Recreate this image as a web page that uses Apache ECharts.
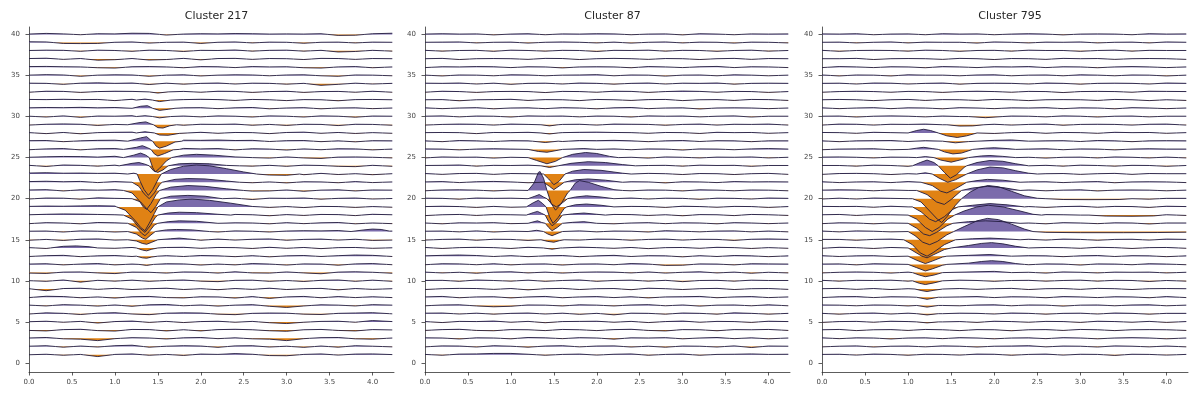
<!DOCTYPE html>
<html><head><meta charset="utf-8">
<script src="https://cdn.jsdelivr.net/npm/echarts@6/dist/echarts.min.js"></script>
<style>html,body{margin:0;padding:0;background:#fff}#c{width:1198px;height:399px}</style>
</head><body><div id="c"></div>
<script>
// ---------- data ----------
const titles = ['Cluster 217', 'Cluster 87', 'Cluster 795'];
const channels = [1,2,3,4,5,6,7,8,9,10,11,12,13,14,15,16,17,18,19,20,21,22,23,24,25,26,27,28,29,30,31,32,33,34,35,36,37,38,39,40];
const sampleTimes = [0,0.2,0.4,0.6,0.8,1.0,1.2,1.4,1.6,1.8,2.0,2.2,2.4,2.6,2.8,3.0,3.2,3.4,3.6,3.8,4.0,4.23];
const xTicks = [0,0.5,1.0,1.5,2.0,2.5,3.0,3.5,4.0];
const yTicks = [0,5,10,15,20,25,30,35,40];

// background wiggle of each channel (channel 1 first), values at sampleTimes
const noise217 = [
[0,.06,-.06,.04,-.22,.04,.1,-.06,.04,-.08,.08,.04,.14,.06,-.1,-.12,.04,.1,-.04,.08,.1,.02],
[.04,.1,-.08,.06,-.06,.1,.16,-.08,.04,.1,.06,-.1,.08,.1,-.06,.04,-.1,.06,-.08,.1,.04,-.04],
[.04,.1,-.06,-.1,-.28,-.04,.08,.04,-.08,.06,.1,-.04,.06,-.06,-.1,-.28,-.04,.08,.1,-.06,-.1,.04],
[-.04,-.1,.06,.1,-.06,-.12,.08,.06,-.1,.04,-.1,.06,.1,.04,-.08,-.14,.04,.08,-.04,-.1,.06,.02],
[.02,.08,-.04,.06,-.14,.04,.1,-.06,.06,-.08,.04,.08,-.04,.06,-.1,-.2,-.04,.06,.08,-.04,.16,.04],
[-.04,.1,.04,-.1,.06,.12,-.04,-.12,.06,.1,.08,-.06,-.12,.04,.08,.06,-.06,-.1,.04,.08,.12,-.02],
[.04,-.06,.1,.04,-.08,.06,-.1,.08,.12,-.04,.06,-.08,.04,.1,-.1,-.24,-.06,.08,.04,-.06,.1,.04],
[-.04,.12,.08,-.06,.04,-.1,.06,.1,-.04,-.08,.06,.04,-.1,.08,-.14,.04,.1,-.06,.08,-.04,.06,-.04],
[.04,-.2,.06,.1,-.04,.08,-.06,.04,.1,-.06,.04,-.08,.06,-.04,.1,-.06,.04,.08,-.1,.06,-.04,.04],
[.02,-.06,.1,-.16,.06,-.04,.08,-.06,.04,.1,-.04,-.1,.06,.08,-.06,.04,-.08,.06,.1,-.06,.08,-.06],
[-.06,-.1,.06,.08,-.04,-.12,.06,.04,-.06,.08,.06,-.06,.1,-.04,-.06,.08,-.04,-.14,.06,.1,.04,-.08],
[.04,.08,-.06,.04,.1,-.06,.04,-.04,.08,.06,-.08,.04,-.06,.1,.04,-.08,.06,.04,-.1,.06,.1,-.04],
[-.04,.06,.1,-.06,.04,.08,-.04,-.06,.06,-.04,.08,.04,-.06,.06,-.08,.04,.08,-.04,.06,.14,.1,-.04],
[.04,-.06,.12,.22,.12,-.04,.06,-.1,.06,.08,-.04,.06,.04,-.06,.08,-.04,.06,-.08,.04,.06,-.04,.02],
[-.06,.04,-.08,.06,.1,-.04,.06,-.1,.04,.06,-.06,.08,-.04,.06,.1,-.06,.04,.08,-.04,.06,-.08,-.04],
[.04,.06,-.06,.08,.04,-.06,.04,-.08,.06,.1,.04,-.06,.08,.04,-.06,.06,.1,.08,.12,.18,.3,.06],
[-.04,.08,.04,-.06,.1,.06,-.04,-.1,.06,.1,.04,-.08,.06,.04,-.06,.08,-.04,.06,.1,-.06,.04,-.04],
[.04,.1,.14,.12,.08,.04,-.06,-.1,.08,.1,.06,-.06,.08,.04,-.08,.06,-.04,.08,.06,-.06,.1,.04],
[.06,.1,.08,.12,.14,.1,-.08,0,0,0,0,0,0,.04,-.06,.04,-.08,.06,.04,-.06,.04,-.04],
[-.04,.08,.06,-.06,.1,.04,-.08,0,0,0,0,0,.06,-.1,.06,.04,.08,-.06,.04,.08,-.04,.02],
[.06,.1,-.06,.08,.04,.1,-.1,0,0,0,0,0,.06,-.08,-.06,.06,-.1,.04,.08,-.06,.06,.04],
[.08,.12,.06,.1,-.04,.08,-.1,0,0,0,0,0,.08,-.06,.04,-.08,.06,.04,-.06,.08,-.04,.04],
[.12,.16,.1,.12,.08,.1,.08,0,0,0,0,0,0,0,0,0,-.08,.08,-.06,.04,-.08,.04],
[.06,-.08,.1,.06,-.04,.08,.1,0,0,0,0,0,.08,-.04,.06,-.06,.08,.04,-.06,-.1,.06,-.06],
[.04,.1,.14,.12,.06,.16,0,0,0,0,0,0,0,.06,-.06,.08,-.04,-.1,.06,.08,.04,-.04],
[-.04,.06,.1,-.06,.08,.1,0,0,.08,.12,.06,.1,-.06,.08,.04,-.08,.06,-.04,.08,.06,-.06,.04],
[.06,.08,-.06,.04,.1,.12,0,0,.06,.12,.1,.14,.08,.1,-.04,.06,.08,-.06,.04,-.08,.06,.04],
[.04,-.08,.06,-.1,.04,.08,.1,0,0,.06,.08,-.04,.06,.04,-.08,.06,.1,-.04,.06,-.06,.04,-.04],
[-.04,.06,.1,.06,-.08,.04,0,0,0,-.06,.06,.04,.08,-.06,.04,-.08,.06,.04,-.1,.06,.04,-.06],
[.04,-.06,.08,-.1,.06,.04,.1,0,0,.06,-.04,.08,.04,-.06,.08,.04,-.06,.08,.04,-.08,.06,.04],
[.06,.1,.08,.12,.06,.1,.14,0,0,.06,.08,-.04,.06,.1,-.06,.04,.08,-.06,.04,.06,-.04,.04],
[.08,.06,.1,.06,.08,-.06,.1,0,0,.06,.1,.06,-.04,.08,.04,-.06,.06,.04,-.08,.06,.08,.04],
[-.04,.08,.06,-.06,.04,.08,.06,0,0,.06,-.04,.08,.06,-.06,.04,.08,-.06,.04,.06,-.04,.08,-.04],
[.06,.04,-.08,.06,.1,.04,.08,-.1,.06,-.06,.04,.08,-.04,.06,.04,-.06,.04,-.2,-.08,.06,-.04,.04],
[.04,.1,.06,-.1,.04,.08,.06,-.1,.04,.08,-.06,.04,.08,.06,-.04,.06,.08,-.04,-.1,.06,.04,-.04],
[.08,.1,.06,.04,-.06,-.1,.06,.08,.04,-.06,.08,.06,-.04,.08,.04,.06,-.06,-.1,.04,.08,-.06,.04],
[.06,.1,-.04,.06,-.14,-.08,.06,-.12,-.06,.08,-.1,.06,.08,-.04,.06,.04,-.06,.08,.06,-.04,.06,.04],
[.04,.08,.06,-.06,.08,.04,-.06,.08,.04,-.08,.06,.04,.1,-.04,.06,.08,-.04,.06,-.14,-.08,.06,-.04],
[.1,.08,-.1,-.12,-.1,.04,.08,-.06,.04,.06,-.1,.04,.08,-.04,.06,.04,-.08,.04,.06,-.04,.06,.04],
[.04,.12,.06,-.04,.08,.06,.14,.12,-.08,.04,.08,.06,.1,.08,.04,.06,.04,.08,-.12,-.1,.08,.14]
];
const noise87 = [
[.04,-.06,.08,.1,.16,.16,.06,-.06,.04,.08,-.04,.06,.1,-.06,.04,.08,-.06,.04,.06,.1,.04,.06],
[-.04,.08,.06,-.06,.1,.04,-.08,.06,.1,-.04,.06,.08,-.06,.04,-.08,.06,.04,-.06,.08,-.12,.06,.04],
[.06,.04,-.08,.06,.04,-.06,.1,.06,-.04,.08,.04,-.1,.06,.04,.08,-.06,.04,.1,-.04,.06,-.06,.04],
[-.04,.06,.1,-.04,-.08,.06,.04,-.06,.08,.04,-.06,.06,.1,-.04,-.1,.06,.04,-.08,.06,.04,.08,-.04],
[.04,-.08,.06,.04,.1,-.04,.06,-.1,.04,.06,.08,-.04,.06,-.08,.04,.1,-.04,.06,.04,-.06,.08,.04],
[.06,.08,-.04,.06,-.06,.04,.08,-.04,.06,-.08,.04,-.14,.06,.04,-.06,.08,.04,-.06,.1,.04,-.06,.04],
[-.04,.06,.08,-.06,-.16,-.1,.06,.04,-.06,.08,.04,-.06,.06,.1,-.04,.06,-.08,.04,.06,-.04,.08,-.04],
[.04,.1,-.06,.04,.06,-.08,.04,.1,-.06,.04,.08,-.04,.06,-.08,.04,.06,.1,-.06,.04,.08,-.04,.04],
[-.06,.04,.08,.06,-.04,.06,-.1,.04,.08,-.06,.04,.06,-.08,.1,.04,-.06,.04,.08,-.06,.04,.06,-.04],
[.04,.06,-.06,.1,.04,-.04,.08,-.06,.04,.1,-.06,.04,.08,-.04,.06,-.1,.04,.06,-.04,.08,.04,.04],
[.06,-.04,.04,-.08,.06,.1,-.04,.06,-.06,.04,.08,.06,-.04,.08,-.06,.04,.1,-.04,.06,-.08,.04,-.04],
[-.04,.08,.06,-.04,.08,-.06,.04,.06,-.08,.04,.06,-.04,.1,.04,-.12,-.1,.06,.04,-.06,.08,.06,.04],
[.04,.1,.14,.08,-.04,.06,-.06,.04,.08,-.06,.04,.1,-.04,.06,.04,-.08,.06,-.04,.08,.04,-.06,.04],
[.06,-.06,.04,.08,.04,-.06,.08,0,0,.1,.04,-.04,.06,-.08,.04,.06,-.04,.08,.04,-.06,.04,-.04],
[-.04,.04,.08,-.06,.06,.04,-.08,0,0,-.04,.08,.06,-.06,.04,.08,-.04,.06,.04,-.08,.06,.1,.04],
[.04,.06,-.04,.08,-.06,.04,0,0,.04,.08,-.04,.06,.04,-.06,.1,.04,-.04,.06,.08,-.04,.06,-.04],
[.04,-.06,.06,.04,.08,-.04,0,0,0,0,.1,-.06,.04,.08,-.04,.06,.04,-.06,.08,.04,-.04,.04],
[-.06,.04,.08,-.04,.06,.04,0,0,0,0,-.04,.08,.06,-.04,.04,-.08,.06,.04,-.06,.08,.04,-.04],
[.04,.08,.04,-.06,.06,-.04,0,0,0,0,0,-.04,.06,.04,-.06,.08,.04,-.04,.06,.04,-.06,.04],
[.06,.04,-.06,.08,.04,.06,0,0,0,0,0,.04,.08,-.04,.06,.04,-.08,.06,.04,-.04,.08,.04],
[-.04,.06,.08,.04,-.06,.04,0,0,0,0,0,.08,-.04,.06,.04,-.06,.08,.04,-.04,.06,.04,-.04],
[.04,.08,-.04,.06,.1,.04,-.06,0,0,0,0,0,.06,.04,-.08,.06,.04,-.04,.08,.04,.06,.04],
[.06,-.04,.06,.08,-.04,.06,.04,0,0,0,0,0,-.04,.08,.04,-.06,.06,.04,-.06,.04,.08,-.04],
[.04,.06,.1,-.04,.06,.04,.08,0,0,0,0,0,0,.04,.06,-.04,.08,.04,.06,-.06,.04,.04],
[-.04,.08,.04,.06,-.06,.04,0,0,0,0,0,0,.04,-.06,.08,.04,-.04,.06,.04,.08,-.04,.04],
[.06,.04,-.06,.04,.08,.04,0,0,0,0,0,.06,-.04,.06,.04,-.08,.06,.04,-.04,.06,.1,.04],
[.04,-.06,.08,.04,-.04,.06,.04,0,-.04,.08,.06,.1,.04,-.06,.04,.08,-.04,.06,.04,-.06,.04,.04],
[.04,.06,.04,-.08,.06,.04,.08,0,.04,.08,.1,.06,.04,-.04,.06,.04,-.06,.08,.04,.06,-.04,.04],
[-.04,.04,.08,.06,-.04,.08,.04,0,.04,.06,-.04,.08,.06,.04,-.06,.04,.08,-.04,.06,.04,.08,-.04],
[.04,.08,-.04,.06,.04,-.06,.08,.04,.06,-.04,.06,.04,-.06,.08,.04,.06,-.04,.04,.08,-.06,.04,.04],
[.06,-.04,.04,.08,-.06,.04,.06,-.04,.08,.04,-.06,.06,.1,-.04,.04,.06,-.08,.04,.06,.04,-.04,.04],
[.04,.06,-.08,.04,.06,.1,-.04,.06,.04,-.06,.08,.04,-.04,.06,.08,-.06,.04,.06,-.04,.08,.06,-.04],
[-.04,.08,.04,-.06,.04,.06,.04,-.08,.06,.04,-.04,.08,.06,-.06,.04,.1,.06,-.04,.06,.04,-.06,.04],
[.06,.04,.08,-.04,.06,-.08,.04,.06,-.04,.08,.04,-.06,.04,.08,-.04,.06,.04,.08,-.06,.04,.06,.04],
[.04,-.06,.06,.04,-.04,.08,.06,-.04,.04,.06,.1,-.04,.06,.04,-.08,.04,.06,-.04,.08,.04,-.04,.04],
[-.04,.06,.04,.08,.06,-.04,.06,.04,-.08,.04,.06,.04,-.06,.08,.04,-.04,.06,.1,-.04,.06,.04,-.04],
[.04,.08,-.06,.04,.06,.04,-.04,.08,.06,-.06,.04,.08,.04,-.04,.06,.04,-.06,.04,.08,-.04,.06,.04],
[.06,-.04,.04,.06,-.06,.08,.04,-.04,.06,.04,-.08,.06,.04,.08,-.04,.06,.04,-.06,.04,.08,-.04,.04],
[.04,.06,.08,-.04,.04,.06,-.06,.04,.08,.04,-.04,.06,-.06,.04,.08,-.04,.06,.04,-.06,.06,.04,-.04],
[.04,.08,.04,.06,-.06,.04,.08,-.04,.06,.04,.08,.06,-.04,.04,.06,-.06,.08,.04,-.04,.06,.04,.06]
];
const noise795 = [
[.04,.06,-.04,.08,.04,-.06,.06,.04,-.04,.08,.06,-.06,.04,.08,-.04,.06,.04,-.08,.06,.04,-.04,.04],
[-.04,.04,.08,-.06,.04,.06,-.04,.08,.04,-.06,.04,.06,.1,-.04,.06,.04,-.06,.08,.04,-.04,.06,-.04],
[.06,-.04,.06,.04,-.08,.04,.06,-.04,.08,.04,-.06,.04,.06,-.04,.08,.04,-.06,.04,.08,.04,-.06,.04],
[.04,.08,-.06,.04,.06,-.04,.08,.04,-.06,.06,.04,-.08,.04,.06,-.04,.08,.04,-.06,.04,.06,.04,-.04],
[-.06,.04,.06,-.04,.08,.04,0,0,.04,-.06,.08,.04,-.04,.06,.04,-.06,.08,.04,-.04,.06,-.06,.04],
[.04,-.06,.04,.08,-.04,.06,0,0,.06,.04,-.04,.08,.04,-.06,.04,.06,-.04,.08,.04,-.06,.04,.04],
[.06,.04,-.04,.06,.04,-.06,0,0,-.04,.06,.08,-.04,.06,.04,-.08,.04,.06,-.04,.06,.08,-.04,.04],
[-.04,.06,.08,-.04,.06,.04,0,0,.04,.08,-.04,.06,.04,-.06,.08,.04,-.04,.06,.04,-.06,.08,-.04],
[.04,.08,-.04,.06,-.06,.04,0,0,.06,-.04,.04,.08,-.06,.04,.06,-.04,.08,.04,-.06,.04,.06,.04],
[.06,-.04,.06,.04,.08,-.04,0,0,.08,.04,-.06,.04,.06,-.04,.04,.08,-.04,.06,.04,-.08,.04,-.04],
[-.04,.04,.08,.04,-.06,.06,0,0,0,0,0,0,.04,-.06,.08,.04,-.04,.06,.04,.06,-.04,.04],
[.04,.06,-.06,.08,.04,.04,0,0,0,0,0,0,-.04,.06,.04,-.08,.06,.04,-.04,.08,.04,-.04],
[.06,-.04,.04,.06,-.04,.08,0,0,0,0,0,0,.06,.04,-.06,.04,.08,-.04,.06,.04,-.06,.04],
[-.04,.08,.04,-.06,.06,.04,0,0,0,0,0,0,0,.06,.04,-.04,.08,.04,-.06,.04,.06,-.04],
[.04,.04,-.06,.04,.08,0,0,0,0,0,0,0,.06,-.04,.08,.04,-.06,.04,.06,-.04,.08,.04],
[.06,-.04,.08,.04,-.04,0,0,0,0,0,0,0,0,0,0,0,0,0,0,0,0,0],
[-.04,.06,.04,-.06,.04,0,0,0,0,0,0,0,.04,-.06,.08,.04,-.04,.06,.04,-.08,.04,.04],
[.04,.08,-.04,.06,.04,0,0,0,0,0,0,0,0,.06,.04,0,0,0,0,0,.04,-.04],
[.06,.04,.06,-.04,.08,0,0,0,0,0,0,0,.04,-.06,.04,.08,-.04,.06,.04,-.06,.08,.04],
[-.04,.06,-.04,.08,.04,0,0,0,0,0,0,0,0,0,0,0,0,0,.04,-.06,.04,.04],
[.04,.08,.06,-.04,.06,0,0,0,0,0,0,0,.06,-.04,.04,.08,-.06,.04,.06,.04,-.04,.04],
[.06,-.04,.04,.06,-.04,.08,0,0,0,0,0,0,.04,.06,-.04,.04,.08,-.06,.04,.06,.04,-.04],
[-.04,.06,.08,.04,-.06,.04,0,0,0,0,0,0,0,.04,.06,-.04,.04,.08,-.04,.06,.04,.04],
[.04,.04,-.04,.08,.04,-.06,0,0,0,0,0,0,0,.06,-.04,.08,.04,-.04,.06,.04,-.06,.04],
[.06,.08,.04,-.04,.06,.04,0,0,0,0,0,0,.04,-.06,.04,.06,-.04,.08,.04,-.04,.06,-.04],
[-.04,.04,.06,.08,-.04,.06,0,0,0,0,0,0,.04,.08,-.04,.06,.04,-.06,.04,.08,.04,.04],
[.04,-.06,.04,.06,.08,-.04,.06,0,0,0,0,0,0,.04,.06,-.04,.08,.04,-.06,.04,.06,.04],
[.06,.04,-.04,.08,.04,0,0,0,0,.04,-.06,.04,.08,-.04,.06,.04,-.04,.08,.04,.06,-.04,.04],
[-.04,.08,.06,-.04,.06,.04,.08,0,0,.04,.06,-.04,.04,.08,-.06,.04,.06,.04,-.04,.06,.08,-.04],
[.04,.06,-.06,.04,.08,.04,-.04,.06,0,0,0,.06,.04,-.04,.08,.04,-.06,.04,.06,-.04,.04,.04],
[.06,-.04,.04,.08,-.04,.06,.04,-.06,.08,.04,-.04,.06,.04,.08,-.04,.06,.04,-.06,.08,.04,-.04,.04],
[.04,.08,.04,-.06,.04,.08,-.04,.06,.04,-.04,.08,.04,-.06,.04,.06,.04,-.04,.08,.04,-.06,.04,-.04],
[-.04,.04,.08,.04,-.04,.06,.04,-.06,.04,.08,.04,-.04,.06,.04,-.08,.04,.06,.04,-.04,.08,.06,.04],
[.04,.06,-.04,.08,.06,-.04,.04,.08,-.06,.04,.06,.04,-.04,.08,.04,-.06,.04,.06,.04,-.04,.08,.04],
[.06,-.06,.06,.04,-.06,.08,.04,.04,-.04,.06,.08,-.04,.04,.06,-.04,.08,.04,-.04,.06,.04,-.06,.04],
[-.04,.08,.04,-.04,.06,.04,-.06,.08,.04,-.04,.06,.04,.08,-.04,.06,.04,-.06,.04,.08,.04,-.04,.04],
[.04,.04,.08,-.06,.04,.06,.04,-.04,.08,.04,-.06,.06,.04,-.04,.08,.04,.06,-.04,.04,.06,.04,-.04],
[.06,-.06,.04,.06,.04,-.04,.08,.04,-.06,.04,.06,-.04,.08,.04,.04,-.06,.04,.08,-.04,.06,.04,.04],
[.04,.06,-.04,.04,.08,-.04,.06,.04,.04,-.06,.08,.04,-.04,.06,.04,.08,-.04,.04,.06,-.04,.08,.04],
[.06,.04,.08,-.04,.04,.06,-.04,.08,.04,.06,-.04,.04,.08,.04,-.06,.04,.06,.04,-.04,.08,.04,.06]
];

// spike-shaped features, keyed by channel: list of segments of [time, value]
const events217 = {
  33: [[[1.4,0],[1.5,-.14],[1.62,0]]],
  32: [[[1.25,0],[1.35,.12],[1.44,0],[1.52,-.18],[1.65,0]]],
  31: [[[1.2,0],[1.3,.25],[1.38,.32],[1.44,0],[1.52,-.25],[1.62,-.12],[1.7,0]]],
  30: [[[1.25,0],[1.35,.1],[1.44,0],[1.52,-.16],[1.65,0]]],
  29: [[[1.15,0],[1.28,.25],[1.36,.35],[1.42,.1],[1.45,0],[1.5,-.35],[1.56,-.4],[1.64,-.12],[1.72,0]]],
  28: [[[1.25,0],[1.35,.15],[1.42,.05],[1.46,0],[1.52,-.25],[1.62,-.28],[1.75,-.05],[1.85,0]]],
  27: [[[1.15,0],[1.3,.4],[1.37,.55],[1.42,.1],[1.44,0],[1.48,-.6],[1.52,-.85],[1.6,-.6],[1.7,-.1],[1.78,0]]],
  26: [[[1.1,0],[1.25,.25],[1.32,.45],[1.38,.2],[1.42,0],[1.46,-.55],[1.5,-.8],[1.58,-.5],[1.68,-.05],[1.75,0]]],
  25: [[[1.1,0],[1.22,.3],[1.3,.55],[1.36,.3],[1.4,0],[1.44,-1.2],[1.47,-1.75],[1.52,-1.3],[1.6,-.4],[1.66,0],[1.8,.3],[1.95,.4],[2.15,.3],[2.4,.08],[2.6,0]]],
  24: [[[1.05,0],[1.2,.3],[1.28,.4],[1.35,.2],[1.4,0],[1.45,-.6],[1.5,-.8],[1.56,-.5],[1.62,0],[1.75,.25],[1.9,.3],[2.1,.25],[2.3,.05],[2.45,0]]],
  23: [[[1.15,0],[1.22,.1],[1.26,0],[1.29,-.8],[1.34,-1.9],[1.39,-2.6],[1.44,-1.9],[1.5,-.7],[1.54,0],[1.65,.55],[1.8,.95],[1.95,1.1],[2.1,1.0],[2.3,.65],[2.5,.25],[2.65,0],[2.8,-.12],[3.0,-.15],[3.15,0]]],
  22: [[[1.2,0],[1.28,-.5],[1.34,-1.4],[1.4,-2.0],[1.46,-1.3],[1.52,-.3],[1.55,0],[1.7,.35],[1.85,.45],[2.05,.4],[2.3,.15],[2.45,0]]],
  21: [[[1.1,0],[1.2,-.3],[1.28,-1.2],[1.33,-2.0],[1.37,-2.3],[1.42,-1.6],[1.48,-.5],[1.52,0],[1.65,.4],[1.85,.6],[2.05,.5],[2.3,.2],[2.5,0]]],
  20: [[[1.2,0],[1.3,-.4],[1.37,-1.2],[1.42,-1.7],[1.48,-.9],[1.53,0],[1.65,.3],[1.85,.4],[2.05,.3],[2.25,0]]],
  19: [[[1.02,0],[1.12,-.4],[1.23,-1.6],[1.3,-2.5],[1.35,-2.9],[1.4,-2.0],[1.46,-.8],[1.5,0],[1.6,.6],[1.75,.85],[1.9,.95],[2.1,.8],[2.35,.45],[2.6,.05],[2.7,0]]],
  18: [[[1.1,0],[1.2,-.5],[1.28,-1.5],[1.35,-2.1],[1.41,-1.3],[1.47,-.3],[1.5,0],[1.62,.25],[1.75,.35],[1.95,.3],[2.2,.1],[2.35,0]]],
  17: [[[1.15,0],[1.25,-.5],[1.31,-1.2],[1.35,-1.5],[1.4,-1.0],[1.46,-.2],[1.5,0],[1.62,.2],[1.75,.3],[1.95,.25],[2.2,0]]],
  16: [[[1.15,0],[1.25,-.3],[1.32,-.8],[1.36,-.95],[1.41,-.5],[1.47,0],[1.6,.2],[1.72,.25],[1.9,.2],[2.1,0]],[[3.75,0],[3.9,.2],[4.0,.3],[4.1,.25],[4.2,.05]]],
  15: [[[1.15,0],[1.25,-.15],[1.32,-.45],[1.37,-.55],[1.43,-.3],[1.5,0],[1.65,.12],[1.75,.2],[1.85,.1],[1.95,0]]],
  14: [[[0.25,0],[0.4,.2],[0.55,.25],[0.7,.15],[0.8,0]],[[1.25,0],[1.32,-.25],[1.37,-.35],[1.43,-.15],[1.5,0]]],
  13: [[[1.25,0],[1.32,-.2],[1.37,-.25],[1.43,-.1],[1.5,0]]],
  12: [[[1.28,0],[1.37,-.12],[1.45,0]]]
};
const events87 = {
  29: [[[1.35,0],[1.45,-.14],[1.55,0]]],
  28: [[[1.35,0],[1.45,-.12],[1.55,0]]],
  27: [[[1.25,0],[1.4,-.16],[1.55,0]]],
  26: [[[1.2,0],[1.32,-.25],[1.42,-.35],[1.55,-.1],[1.6,0],[1.85,.1],[2.0,0]]],
  25: [[[1.2,0],[1.3,-.35],[1.42,-.75],[1.52,-.45],[1.6,0],[1.72,.4],[1.87,.62],[2.0,.5],[2.15,.15],[2.25,0]]],
  24: [[[1.35,0],[1.45,-.2],[1.55,0],[1.7,.3],[1.9,.5],[2.1,.4],[2.3,.15],[2.45,0]]],
  23: [[[1.38,0],[1.44,-.6],[1.5,-1.3],[1.56,-.9],[1.63,0],[1.72,.35],[1.85,.55],[2.05,.45],[2.3,.1],[2.4,0]]],
  22: [[[1.38,0],[1.45,-.5],[1.5,-.9],[1.57,-.4],[1.62,0],[1.75,.3],[1.9,.4],[2.1,.25],[2.3,0]]],
  21: [[[1.2,0],[1.27,.9],[1.32,2.2],[1.34,2.3],[1.38,1.5],[1.42,0],[1.47,-1.6],[1.52,-2.4],[1.58,-1.7],[1.66,-.3],[1.69,0],[1.75,.9],[1.8,1.2],[1.9,1.0],[2.05,.5],[2.2,.1],[2.3,0]]],
  20: [[[1.2,0],[1.28,.3],[1.33,.5],[1.38,.2],[1.42,0],[1.48,-.7],[1.53,-1.0],[1.6,-.5],[1.66,0],[1.75,.2],[1.88,.35],[2.05,.2],[2.2,0]]],
  19: [[[1.18,0],[1.26,.5],[1.32,.8],[1.37,.4],[1.41,0],[1.45,-1.2],[1.49,-2.0],[1.55,-1.3],[1.62,-.2],[1.65,0],[1.75,.25],[1.88,.35],[2.05,.2],[2.2,0]]],
  18: [[[1.18,0],[1.26,.3],[1.31,.45],[1.36,.2],[1.4,0],[1.44,-.8],[1.48,-1.3],[1.54,-.8],[1.6,0],[1.72,.15],[1.85,.25],[2.0,.1],[2.1,0]]],
  17: [[[1.2,0],[1.27,.2],[1.31,.3],[1.36,.1],[1.4,0],[1.44,-.5],[1.48,-.9],[1.54,-.5],[1.6,0],[1.72,.12],[1.85,.2],[2.0,0]]],
  16: [[[1.2,0],[1.3,.15],[1.38,0],[1.43,-.3],[1.48,-.5],[1.55,-.2],[1.6,0]]],
  15: [[[1.35,0],[1.43,-.2],[1.5,-.3],[1.57,-.1],[1.62,0]]],
  14: [[[1.38,0],[1.48,-.15],[1.58,0]]]
};
const events795 = {
  30: [[[1.7,0],[1.9,-.14],[2.1,0]]],
  29: [[[1.45,0],[1.6,-.16],[1.75,-.14],[1.88,0]]],
  28: [[[1.0,0],[1.1,.3],[1.18,.45],[1.26,.3],[1.35,0],[1.45,-.35],[1.57,-.55],[1.68,-.35],[1.8,0]]],
  27: [[[1.4,0],[1.55,-.2],[1.7,-.05],[1.8,0],[2.0,.1],[2.2,.15],[2.4,0]]],
  26: [[[1.0,0],[1.1,.15],[1.18,.25],[1.28,.1],[1.35,0],[1.42,-.3],[1.52,-.55],[1.62,-.45],[1.75,0],[1.9,.15],[2.0,.2],[2.15,.1],[2.25,0]]],
  25: [[[1.1,0],[1.2,.12],[1.3,0],[1.38,-.3],[1.5,-.55],[1.6,-.3],[1.7,0],[1.85,.2],[1.95,.25],[2.1,.15],[2.25,0]]],
  24: [[[1.05,0],[1.14,.4],[1.22,.7],[1.3,.4],[1.35,0],[1.42,-.8],[1.49,-1.5],[1.56,-1.1],[1.65,-.2],[1.68,0],[1.8,.4],[1.95,.65],[2.1,.55],[2.25,.25],[2.4,0]]],
  23: [[[1.1,0],[1.2,.15],[1.28,0],[1.36,-.5],[1.46,-1.0],[1.55,-.7],[1.68,0],[1.8,.5],[1.95,.85],[2.1,.75],[2.25,.4],[2.4,.1],[2.5,0]]],
  22: [[[1.15,0],[1.28,-.4],[1.38,-1.1],[1.45,-1.3],[1.55,-.8],[1.68,0],[1.8,.2],[1.92,.35],[2.1,.25],[2.3,0]]],
  21: [[[1.1,0],[1.22,-.5],[1.33,-1.4],[1.42,-1.7],[1.5,-1.1],[1.62,0],[1.75,.3],[1.92,.5],[2.1,.35],[2.3,0]]],
  20: [[[1.05,0],[1.15,-.4],[1.25,-1.5],[1.34,-2.5],[1.39,-2.9],[1.45,-2.2],[1.55,-.8],[1.62,0],[1.72,.8],[1.82,1.35],[1.93,1.6],[2.05,1.45],[2.2,.9],[2.35,.35],[2.5,.05],[2.6,0],[2.8,-.1],[3.1,-.12],[3.45,-.1],[3.6,0]]],
  19: [[[1.05,0],[1.15,-.6],[1.25,-1.5],[1.32,-1.8],[1.42,-1.2],[1.52,-.3],[1.58,0],[1.75,.2],[1.95,.4],[2.15,.25],[2.35,0]]],
  18: [[[1.0,0],[1.1,-.5],[1.2,-1.5],[1.28,-2.0],[1.36,-1.5],[1.46,-.5],[1.54,0],[1.65,.5],[1.8,1.0],[1.93,1.2],[2.1,1.0],[2.3,.5],[2.45,.1],[2.55,0]],[[3.1,0],[3.3,-.12],[3.6,-.14],[3.85,-.1],[3.95,0]]],
  17: [[[1.0,0],[1.1,-.6],[1.18,-1.3],[1.25,-1.5],[1.33,-1.1],[1.45,-.3],[1.52,0],[1.7,.2],[1.9,.3],[2.1,.2],[2.3,0]]],
  16: [[[1.0,0],[1.08,-.5],[1.17,-1.3],[1.25,-1.6],[1.34,-1.2],[1.45,-.4],[1.53,0],[1.65,.6],[1.8,1.3],[1.92,1.6],[2.05,1.45],[2.2,.9],[2.35,.3],[2.45,0],[2.6,-.1],[3.0,-.14],[3.5,-.14],[3.9,-.12],[4.23,-.08]]],
  15: [[[0.95,0],[1.05,-.6],[1.14,-1.6],[1.22,-2.0],[1.3,-1.5],[1.42,-.6],[1.55,0],[1.75,.12],[1.95,.2],[2.15,.1],[2.3,0]]],
  14: [[[1.0,0],[1.08,-.5],[1.16,-1.0],[1.22,-1.2],[1.3,-.8],[1.42,-.2],[1.5,0],[1.7,.3],[1.85,.55],[1.97,.65],[2.1,.5],[2.25,.2],[2.4,0]]],
  13: [[[1.0,0],[1.1,-.5],[1.2,-.9],[1.28,-.6],[1.4,-.1],[1.45,0],[1.7,.1],[1.95,.2],[2.2,0]]],
  12: [[[1.0,0],[1.1,-.4],[1.2,-.8],[1.28,-.55],[1.4,-.1],[1.45,0],[1.7,.15],[1.85,.35],[1.97,.45],[2.1,.35],[2.25,.1],[2.35,0]]],
  11: [[[1.05,0],[1.13,-.3],[1.2,-.5],[1.3,-.3],[1.4,0],[1.8,.1],[2.0,.15],[2.2,0]]],
  10: [[[1.05,0],[1.13,-.3],[1.2,-.45],[1.3,-.25],[1.4,0]]],
  9:  [[[1.08,0],[1.16,-.2],[1.22,-.3],[1.3,-.15],[1.4,0]]],
  8:  [[[1.1,0],[1.22,-.25],[1.35,0]]],
  7:  [[[1.1,0],[1.22,-.2],[1.35,0]]],
  6:  [[[1.1,0],[1.22,-.15],[1.35,0]]],
  5:  [[[1.1,0],[1.22,-.12],[1.35,0]]]
};

// ---------- build ----------
const PURPLE = '#7b6bab', ORANGE = '#e08214', LINE = '#221c3e';
function buildTrace(noise, segs) {
  let pts = sampleTimes.map((t, i) => [t, noise[i]]);
  (segs || []).forEach(seg => {
    const a = seg[0][0], b = seg[seg.length - 1][0];
    pts = pts.filter(p => p[0] < a || p[0] > b).concat(seg);
  });
  pts.sort((p, q) => p[0] - q[0]);
  const out = [pts[0]];
  for (let i = 1; i < pts.length; i++) {
    const [t0, v0] = pts[i - 1], [t1, v1] = pts[i];
    if (v0 * v1 < 0) out.push([t0 + (t1 - t0) * v0 / (v0 - v1), 0]);
    out.push(pts[i]);
  }
  return out;
}
const panels = [[noise217, events217], [noise87, events87], [noise795, events795]]
  .map(([nz, ev]) => channels.map((c, i) => buildTrace(nz[i], ev[c])));

const grids = [{left:29, top:27, width:365, height:345},
               {left:425, top:27, width:365, height:345},
               {left:822, top:27, width:366, height:345}];
const axisCol = '#333';
const option = {
  animation: false,
  backgroundColor: '#fff',
  textStyle: {fontFamily: 'DejaVu Sans'},
  title: grids.map((g, i) => ({text: titles[i], left: g.left + g.width / 2, top: 6, textAlign: 'center',
    textStyle: {fontSize: 11, fontWeight: 'normal', color: '#262626', fontFamily: 'DejaVu Sans'}})),
  grid: grids,
  xAxis: grids.map((g, i) => ({gridIndex: i, type: 'value', min: 0, max: 4.25,
    axisLine: {show: true, onZero: false, lineStyle: {color: axisCol, width: 0.8}},
    axisTick: {show: true, length: 3.5, customValues: xTicks, lineStyle: {color: axisCol, width: 0.8}},
    axisLabel: {customValues: xTicks, formatter: v => v.toFixed(1), fontSize: 7, color: '#444', margin: 7},
    splitLine: {show: false}})),
  yAxis: grids.map((g, i) => ({gridIndex: i, type: 'value', min: -1.1, max: 40.9,
    axisLine: {show: true, onZero: false, lineStyle: {color: axisCol, width: 0.8}},
    axisTick: {show: true, length: 3.5, customValues: yTicks, lineStyle: {color: axisCol, width: 0.8}},
    axisLabel: {customValues: yTicks, formatter: v => String(v), fontSize: 7, color: '#444', margin: 9},
    splitLine: {show: false}})),
  series: []
};
panels.forEach((traces, p) => {
  const data = channels.map(c => [0, c]);
  option.series.push({
    type: 'custom', xAxisIndex: p, yAxisIndex: p, silent: true, z: 1, data,
    encode: {x: 0, y: 1},
    renderItem: (params, api) => {
      const ch = channels[params.dataIndex];
      const pts = traces[params.dataIndex];
      const t0 = pts[0][0], t1 = pts[pts.length - 1][0];
      const pos = pts.map(q => api.coord([q[0], ch + Math.max(q[1], 0)]));
      pos.push(api.coord([t1, ch]), api.coord([t0, ch]));
      const neg = pts.map(q => api.coord([q[0], ch + Math.min(q[1], 0)]));
      neg.push(api.coord([t1, ch]), api.coord([t0, ch]));
      return {type: 'group', children: [
        {type: 'polygon', shape: {points: pos}, style: {fill: PURPLE}},
        {type: 'polygon', shape: {points: neg}, style: {fill: ORANGE}}
      ]};
    }
  });
  option.series.push({
    type: 'custom', xAxisIndex: p, yAxisIndex: p, silent: true, z: 2, data,
    encode: {x: 0, y: 1},
    renderItem: (params, api) => {
      const ch = channels[params.dataIndex];
      const pts = traces[params.dataIndex];
      return {type: 'polyline', shape: {points: pts.map(q => api.coord([q[0], ch + q[1]]))},
        style: {stroke: LINE, lineWidth: 0.9, fill: null}};
    }
  });
});
const chart = echarts.init(document.getElementById('c'), null, {renderer: 'canvas'});
chart.setOption(option);
</script>
</body></html>
